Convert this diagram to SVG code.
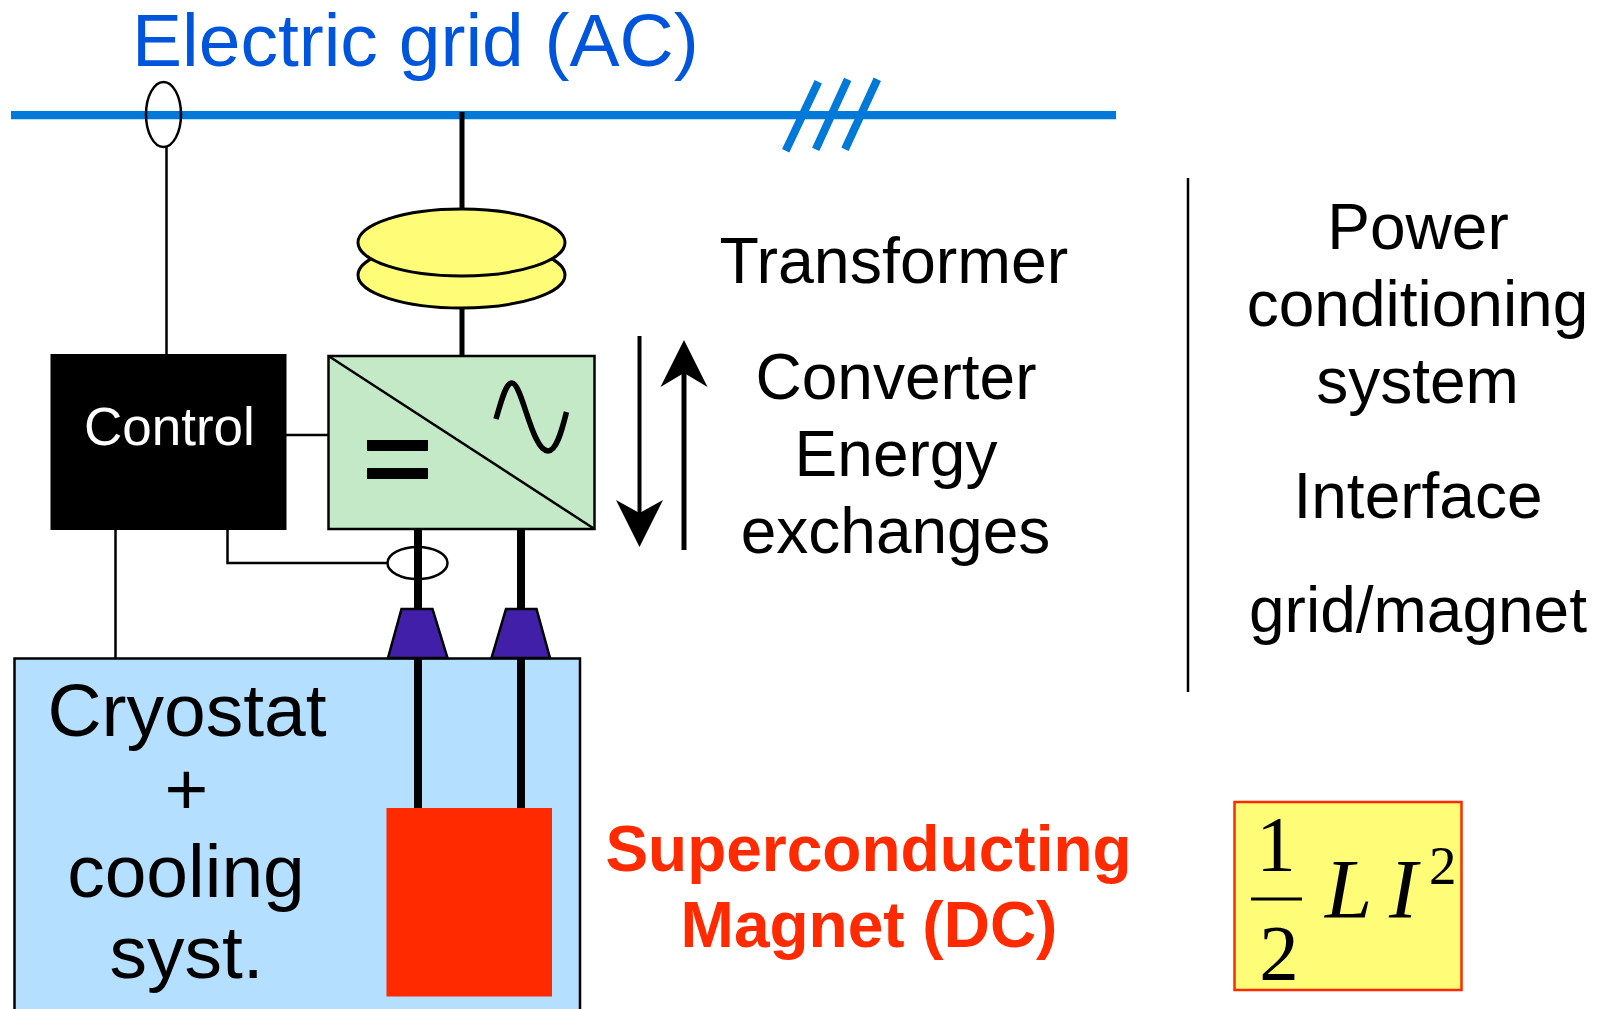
<svg xmlns="http://www.w3.org/2000/svg" width="1602" height="1009" viewBox="0 0 1602 1009">
<defs><style>
text{font-family:"Liberation Sans",Arial,sans-serif;fill:#000}
.m{text-anchor:middle}
.t64{font-size:64.500px}
.c64{font-size:64px;text-anchor:middle}
.t75{font-size:75px}
.red{font-weight:bold;font-size:64px;fill:#FF2A00;text-anchor:middle}
.f{font-family:"Liberation Serif","Times New Roman",serif;font-size:79px}
.fi{font-size:85px;font-style:italic}
.thin{stroke:#000;stroke-width:2.500;fill:none}
.thick{stroke:#000;stroke-width:8;fill:none}
.med{stroke:#000;stroke-width:5;fill:none}
.blue{stroke:#0079D8;fill:none}
.tr{fill:#FFFC78;stroke:#000;stroke-width:3}
.bush{fill:#421FA8;stroke:#000;stroke-width:2.500}
</style></defs>
<rect width="1602" height="1009" fill="#fff"/>
<g id="cryostat"><rect x="14.500" y="658.500" width="565.500" height="380" fill="#B5DFFF" stroke="#000" stroke-width="2.500"/>
<text class="t75 m" x="187" y="736">Cryostat</text><text class="t75 m" x="186.500" y="815">+</text><text class="t75 m" x="186" y="897">cooling</text><text class="t75 m" x="186.500" y="978">syst.</text></g>
<g id="connectors">
<path class="blue" stroke-width="8.300" d="M11 115.200H1116"/>
<path class="blue" stroke-width="8" d="M785.700 150.700L818.300 81.700M815.700 149.300L847.700 79.300M845 149.300L877.300 79.300"/>
<path class="thin" d="M166.500 147V354M285 435H328M115.500 530V658M227.500 530V563H388"/>
<path class="med" d="M462 112V210M462 308V355"/>
<path class="thick" d="M418 529V609M418 658V808M521 529V609M521 658V808"/>
</g>
<g id="sensor-grid"><ellipse cx="163.500" cy="114.500" rx="17.500" ry="32.500" fill="none" stroke="#000" stroke-width="2.500"/></g>
<g id="transformer"><ellipse class="tr" cx="461.500" cy="275" rx="103.500" ry="33"/><ellipse class="tr" cx="461.500" cy="242.500" rx="103.500" ry="33.500"/></g>
<g id="control"><rect x="50.500" y="354" width="236" height="176" fill="#000"/><text x="84" y="445" font-size="53" style="fill:#fff">Control</text></g>
<g id="converter"><rect x="328.500" y="356" width="266" height="173" fill="#C4E9C6" stroke="#000" stroke-width="2.500"/>
<path d="M328.500 356L594.500 529" stroke="#000" stroke-width="2.500" fill="none"/>
<rect x="367" y="440" width="61" height="11"/><rect x="367" y="468" width="61" height="11"/>
<path d="M496 419C502 398 506 383 512 383C522 383 532 451 548 451C556 451 561 434 566.500 412" fill="none" stroke="#000" stroke-width="5.500"/></g>
<g id="sensor-dc"><ellipse cx="417.500" cy="563" rx="30" ry="16" fill="none" stroke="#000" stroke-width="2.500"/></g>
<g id="bushing-1"><path class="bush" d="M401.500 609H432.500L447.500 658H388Z"/></g>
<g id="bushing-2"><path class="bush" d="M506 609H536.500L550 658H491.500Z"/></g>
<g id="magnet"><rect x="386.500" y="808" width="165.500" height="188.500" fill="#FF2A00"/></g>
<g id="arrows"><path d="M639.500 336V515" stroke="#000" stroke-width="4"/><path d="M639.500 547L616 500L639.500 513L663 500Z"/>
<path d="M684 550V370" stroke="#000" stroke-width="5"/><path d="M684 340L660.500 387L684 373L707.500 387Z"/></g>
<g id="labels">
<text x="132" y="66" font-size="75" style="fill:#0055DD">Electric grid (AC)</text>
<text class="t64" x="719.500" y="283">Transformer</text>
<text class="c64" x="896" y="399">Converter</text><text class="c64" x="896" y="476">Energy</text><text class="c64" x="895.500" y="553">exchanges</text>
<text class="red" x="868.500" y="871">Superconducting</text><text class="red" x="869" y="947">Magnet (DC)</text>
<text class="c64" x="1418" y="249">Power</text><text class="c64" x="1417.500" y="326">conditioning</text><text class="c64" x="1417.500" y="403">system</text><text class="c64" x="1418" y="518">Interface</text><text class="c64" x="1418" y="632">grid/magnet</text>
</g>
<g id="divider"><path class="thin" d="M1188 178V692"/></g>
<g id="formula"><rect x="1234.500" y="802" width="227" height="188" fill="#FFFC78" stroke="#FF2A00" stroke-width="2.500"/>
<path d="M1251 899H1302" stroke="#000" stroke-width="3"/>
<text class="f m" x="1276" y="870">1</text><text class="f m" x="1279" y="979">2</text>
<text class="f fi" x="1325" y="918">L</text><text class="f fi" x="1389" y="918">I</text>
<text class="f" x="1429" y="884" style="font-size:55px">2</text></g>
</svg>
